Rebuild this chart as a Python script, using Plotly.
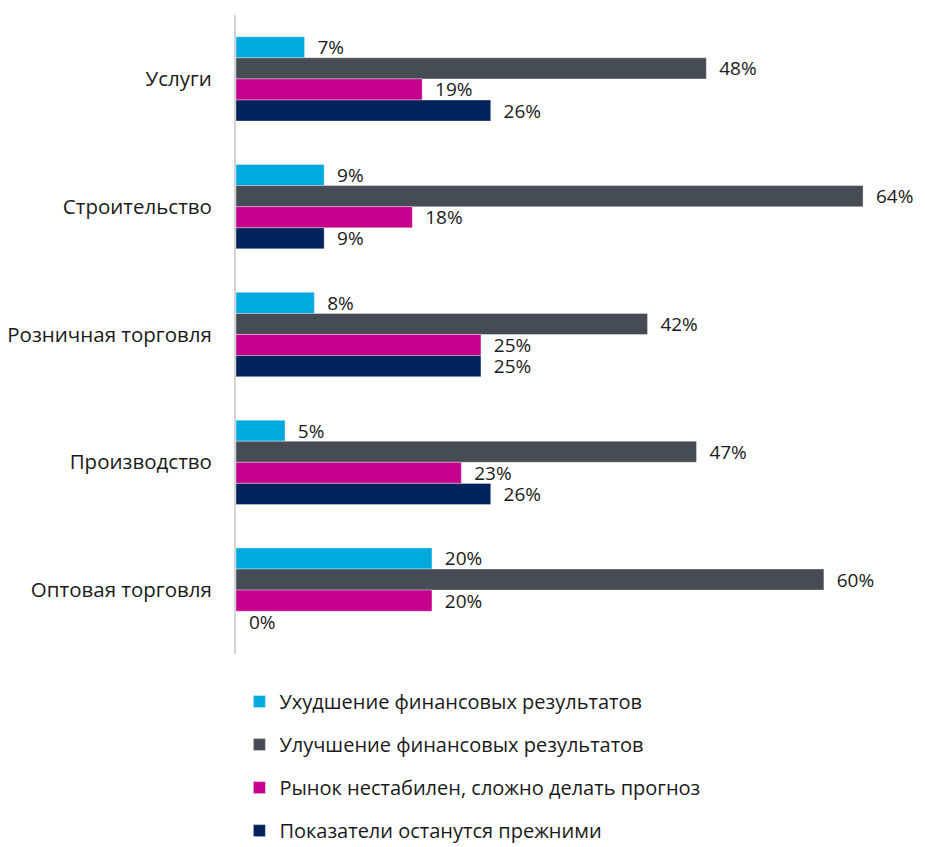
import plotly.graph_objects as go

categories = ["Услуги", "Строительство", "Розничная торговля", "Производство", "Оптовая торговля"]
series_names = [
    "Ухудшение финансовых результатов",
    "Улучшение финансовых результатов",
    "Рынок нестабилен, сложно делать прогноз",
    "Показатели останутся прежними",
]
worse = [7, 9, 8, 5, 20]
better = [48, 64, 42, 47, 60]
unstable = [19, 18, 25, 23, 20]
same = [26, 9, 25, 26, 0]
values = [worse, better, unstable, same]
colors = ["#00A9DE", "#454C54", "#C4008C", "#00235C"]

FONT = "Open Sans"
fig = go.Figure()
for name, vals, col in zip(series_names, values, colors):
    fig.add_trace(go.Bar(
        y=categories, x=vals, name=name, orientation="h",
        marker=dict(color=col, line=dict(color="rgba(255,255,255,0.6)", width=0.6)),
        text=["\u00a0\u00a0" + f"{v}%" for v in vals],
        textposition="outside", constraintext="none", cliponaxis=False,
        textfont=dict(family=FONT, size=19, color="#1a1a1a"),
        legendgroup=name,
    ))

fig.update_layout(
    width=925, height=847,
    margin=dict(l=236, r=10, t=15, b=193, autoexpand=False),
    barmode="group", bargap=0.34, bargroupgap=0,
    plot_bgcolor="white", paper_bgcolor="white",
    font=dict(family=FONT, size=20, color="#1a1a1a"),
    showlegend=True,
    legend=dict(x=0.005, y=-0.044, xanchor="left", yanchor="top",
                orientation="v", tracegroupgap=14,
                font=dict(family=FONT, size=20, color="#1a1a1a")),
    xaxis=dict(range=[0, 69.3], showticklabels=False, showgrid=False,
               zeroline=False, showline=False, ticks=""),
    yaxis=dict(autorange="reversed", showline=True, linecolor="#d4d4d4",
               linewidth=2, ticks="", ticklabelstandoff=18, showgrid=False,
               tickfont=dict(family=FONT, size=20.5, color="#1a1a1a")),
)

fig.write_html("out.html")
